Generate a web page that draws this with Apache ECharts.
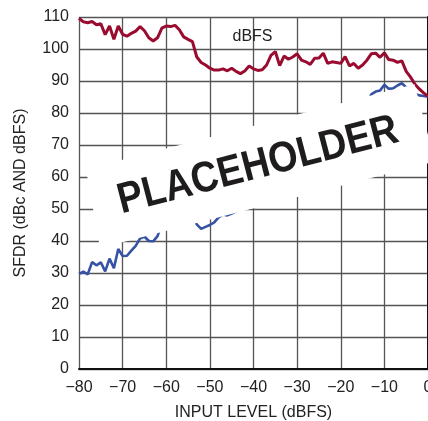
<!DOCTYPE html>
<html>
<head>
<meta charset="utf-8">
<script src="https://cdn.jsdelivr.net/npm/echarts@6/dist/echarts.min.js"></script>
<style>
html,body{margin:0;padding:0;background:#fff;}
#c{width:428px;height:421px;}
</style>
</head>
<body>
<div id="c"></div>
<script>
const inputLevel = [-80,-79,-78,-77,-76,-75,-74,-73,-72,-71,-70,-69,-68,-67,-66,-65,-64,-63,-62,-61,-60,-59,-58,-57,-56,-55,-54,-53,-52,-51,-50,-49,-48,-47,-46,-45,-44,-43,-42,-41,-40,-39,-38,-37,-36,-35,-34,-33,-32,-31,-30,-29,-28,-27,-26,-25,-24,-23,-22,-21,-20,-19,-18,-17,-16,-15,-14,-13,-12,-11,-10,-9,-8,-7,-6,-5,-4,-3,-2,-1,0];
const sfdrDbfs = [109.6,108.5,108.2,108.6,107.6,107.9,104.5,107.2,103,107.2,104.6,104,104.9,105.6,107,105.7,103.5,102.5,103.5,106.5,107.2,107,107.4,106,103.8,103,102.3,97.5,95.8,95,94,93.4,93.4,93.8,93.2,94,93,92.3,93.1,94.7,93.8,93.3,93.5,95,98,99.2,94.8,97.8,96.8,97.5,98.5,96.5,96,95.2,97.1,97.2,98.7,95.5,96,95.8,95.5,97.6,94.7,95.5,94,95,96.5,98.5,98.7,97.4,98.8,96.7,96.5,95.8,96.3,93,91.2,89,87.5,86.3,85.2];
const sfdrDbc = [29.7,30.4,29.6,33.4,32.4,33.3,30.5,34.5,31.5,37.5,35.3,35.4,37,38.5,40.8,41.4,40,39.9,41.5,45.5,47,48,49.4,49,47.8,48,48.3,45.2,43.8,44.4,45,45.8,47.4,48.3,48,48.6,49.3,50,51,53.7,53.8,54.3,55.5,58,62,64.2,60.8,64.8,64.8,66.5,68.5,67.5,68,68.2,71.1,72.2,74.7,72.5,74,74.8,75.5,78.6,76.7,78.5,78,80,82.5,85.8,86.7,87,88.8,87.6,87.7,88.6,89.3,88,87.2,86,85.5,85.3,85.1];
const seriesLabel = 'dBFS';
const xTitle = 'INPUT LEVEL (dBFS)';
const yTitle = 'SFDR (dBc AND dBFS)';
const bannerText = 'PLACEHOLDER';

const font = "'Liberation Sans',Arial,sans-serif";
const chart = echarts.init(document.getElementById('c'), null, {renderer:'canvas'});
const zip = (xs, ys) => xs.map((x, i) => [x, ys[i]]);

chart.setOption({
  animation: false,
  backgroundColor: '#fff',
  grid: {left: 79, right: 0, top: 17, bottom: 52, containLabel: false, outerBoundsMode: 'none'},
  xAxis: {
    type: 'value', min: -80, max: 0, interval: 10,
    axisLine: {show: true, onZero: false, lineStyle: {color: '#111', width: 2}},
    axisTick: {show: false},
    splitLine: {show: true, lineStyle: {color: '#555', width: 1.3}},
    axisLabel: {fontSize: 16, color: '#222', fontFamily: font, margin: 11,
      formatter: v => String(v).replace('-', '\u2212')},
    name: xTitle, nameLocation: 'middle', nameGap: 36,
    nameTextStyle: {fontSize: 16, color: '#222', fontFamily: font}
  },
  yAxis: {
    type: 'value', min: 0, max: 110, interval: 10,
    axisLine: {show: true, lineStyle: {color: '#111', width: 2}},
    axisTick: {show: false},
    splitLine: {show: true, lineStyle: {color: '#555', width: 1.3}},
    axisLabel: {fontSize: 16, color: '#222', fontFamily: font, margin: 10},
    name: yTitle, nameLocation: 'middle', nameGap: 50, nameRotate: 90,
    nameTextStyle: {fontSize: 16, color: '#222', fontFamily: font}
  },
  series: [
    {type: 'line', name: 'dBc', data: zip(inputLevel, sfdrDbc), showSymbol: false,
      lineStyle: {color: '#3652a5', width: 2.6}, z: 3},
    {type: 'line', name: 'dBFS', data: zip(inputLevel, sfdrDbfs), showSymbol: false,
      lineStyle: {color: '#990c30', width: 3}, z: 4}
  ],
  graphic: [
    {type: 'text', x: 252.5, y: 37, z: 5,
      style: {text: seriesLabel, fontSize: 16, fontFamily: font, fill: '#222', align: 'center', verticalAlign: 'middle'}},
    {type: 'polygon', z: 100,
      shape: {points: [[86,169.3],[414.5,84.2],[435,161.4],[100,248]]},
      style: {fill: '#fff', stroke: null}},
    {type: 'text', x: 258, y: 166, rotation: 0.253, scaleX: 0.88, z: 101,
      style: {text: bannerText, fontSize: 43, fontWeight: 'bold', fontFamily: "'Liberation Sans',Arial,sans-serif",
        fill: '#1e1c1d', align: 'center', verticalAlign: 'middle'}}
  ]
});
</script>
</body>
</html>
